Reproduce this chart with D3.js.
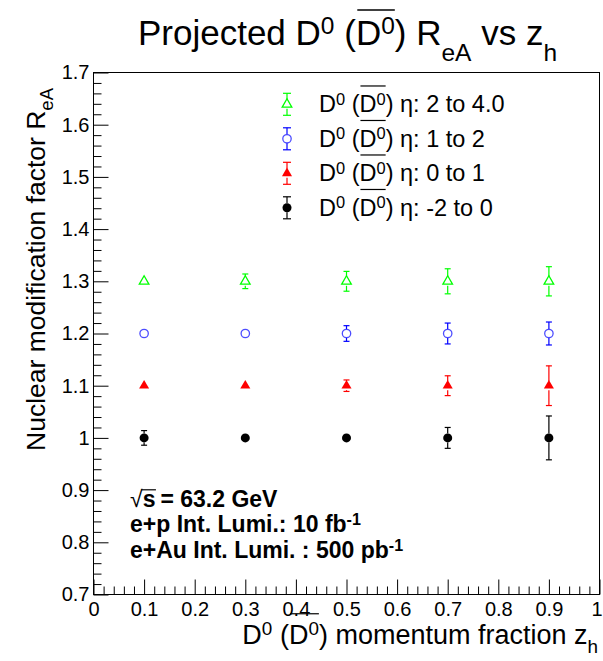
<!DOCTYPE html>
<html>
<head>
<meta charset="utf-8">
<script src="https://cdn.jsdelivr.net/npm/d3@7"></script>
<style>
  html, body { margin: 0; padding: 0; background: #fff; }
  svg { display: block; }
  text { font-family: "Liberation Sans", Arial, Helvetica, sans-serif; fill: #000; white-space: pre; }
</style>
</head>
<body>
<svg id="chart" width="603" height="661"></svg>
<script>
// Momentum-fraction bins (bin centres)
const zh = [0.1, 0.3, 0.5, 0.7, 0.9];

// Projected R_eA and statistical uncertainties per pseudorapidity range
const rEta2to4 = [1.3, 1.3, 1.3, 1.3, 1.3];
const errEta2to4 = [0.004, 0.014, 0.019, 0.024, 0.028];
const rEta1to2 = [1.2, 1.2, 1.2, 1.2, 1.2];
const errEta1to2 = [0.005, 0.007, 0.015, 0.020, 0.022];
const rEta0to1 = [1.1, 1.1, 1.1, 1.1, 1.1];
const errEta0to1 = [0.004, 0.005, 0.011, 0.019, 0.038];
const rEtaM2to0 = [1.0, 1.0, 1.0, 1.0, 1.0];
const errEtaM2to0 = [0.014, 0.004, 0.005, 0.020, 0.042];

// Legend labels (η ranges)
const etaLabels = ["2 to 4.0", "1 to 2", "0 to 1", "-2 to 0"];

// Axis ticks and their labels
const xTicks = [0, 0.1, 0.2, 0.3, 0.4, 0.5, 0.6, 0.7, 0.8, 0.9, 1];
const xTickLabels = ["0", "0.1", "0.2", "0.3", "0.4", "0.5", "0.6", "0.7", "0.8", "0.9", "1"];
const yTicks = [0.7, 0.8, 0.9, 1.0, 1.1, 1.2, 1.3, 1.4, 1.5, 1.6, 1.7];
const yTickLabels = ["0.7", "0.8", "0.9", "1", "1.1", "1.2", "1.3", "1.4", "1.5", "1.6", "1.7"];

// Info box lines
const infoLines = ["= 63.2 GeV", "e+p Int. Lumi.: 10 fb", "e+Au Int. Lumi. : 500 pb"];

// ---- series definitions (data + drawing style) ----
const series = [
  { label: etaLabels[0], values: rEta2to4, errors: errEta2to4, color: "#00ff00", marker: "triangle", filled: false },
  { label: etaLabels[1], values: rEta1to2, errors: errEta1to2, color: "#0000ff", marker: "circle", filled: false },
  { label: etaLabels[2], values: rEta0to1, errors: errEta0to1, color: "#ff0000", marker: "triangle", filled: true },
  { label: etaLabels[3], values: rEtaM2to0, errors: errEtaM2to0, color: "#000000", marker: "circle", filled: true }
];

const FONT = "\"Liberation Sans\", Arial, Helvetica, sans-serif";
const svg = d3.select("#chart");

const frame = { left: 93.5, right: 599.5, top: 72.5, bottom: 594.5 };
const x = d3.scaleLinear().domain([0, 1]).range([frame.left, frame.right]);
const y = d3.scaleLinear().domain([0.7, 1.7]).range([frame.bottom, frame.top]);

// Rich text: a row of parts with optional superscript / subscript / overline
function richText(parent, parts, opt) {
  const size = opt.size;
  const g = parent.append("g");
  const inner = g.append("g");
  let cx = 0;
  const bars = {};
  parts.forEach(p => {
    const fs = p.s ? size * 0.7 : size;
    const dy = p.s === "sup" ? -0.32 * size : p.s === "sub" ? (opt.subDy || 0.4) * size : 0;
    const t = inner.append("text")
      .attr("x", cx).attr("y", dy)
      .attr("font-size", fs)
      .attr("font-weight", opt.weight || "normal")
      .text(p.t);
    const w = t.node().getComputedTextLength();
    if (p.bar) {
      if (!bars[p.bar]) bars[p.bar] = [cx, cx + w];
      else bars[p.bar][1] = cx + w;
    }
    cx += w;
  });
  Object.values(bars).forEach(([a, b]) => {
    inner.append("line")
      .attr("x1", a + size * 0.04).attr("x2", b)
      .attr("y1", -(opt.barY || 1.12) * size).attr("y2", -(opt.barY || 1.12) * size)
      .attr("stroke", "#000").attr("stroke-width", opt.barW || 1.2);
  });
  const shift = opt.anchor === "middle" ? -cx / 2 : opt.anchor === "end" ? -cx : 0;
  inner.attr("transform", `translate(${shift},0)`);
  g.attr("transform", `translate(${opt.x},${opt.y})` + (opt.rotate ? ` rotate(${opt.rotate})` : ""));
  return g;
}

// D0 (D0bar) prefix used in several labels
function dPrefix() {
  return [
    { t: "D" }, { t: "0", s: "sup" }, { t: " (" },
    { t: "D", bar: "a" }, { t: "0", s: "sup", bar: "a" }, { t: ")" }
  ];
}

// ---- title ----
richText(svg, [{ t: "Projected " }, ...dPrefix(), { t: " R" }, { t: "eA", s: "sub" }, { t: " vs z" }, { t: "h", s: "sub" }],
  { x: 347.5, y: 45, size: 35, anchor: "middle", subDy: 0.45, barY: 1.0, barW: 1.6 });

// ---- frame ----
svg.append("rect")
  .attr("x", frame.left).attr("y", frame.top)
  .attr("width", frame.right - frame.left).attr("height", frame.bottom - frame.top)
  .attr("fill", "none").attr("stroke", "#000").attr("stroke-width", 1);

// ---- axes (ticks drawn inside the frame) ----
const xMinor = d3.range(0, 1.0001, 0.02).filter(v => Math.abs(v * 10 - Math.round(v * 10)) > 1e-6);
const yMinor = d3.range(0.7, 1.7001, 0.02).filter(v => Math.abs(v * 10 - Math.round(v * 10)) > 1e-6);

function styleAxis(g) {
  g.select(".domain").remove();
  g.selectAll("line").attr("stroke", "#000");
  g.selectAll("text").attr("font-family", FONT).attr("font-size", 20).attr("fill", "#000");
}

svg.append("g").attr("transform", `translate(0,${frame.bottom})`)
  .call(d3.axisBottom(x).tickValues(xMinor).tickSizeInner(-8).tickSizeOuter(0).tickFormat(""))
  .call(styleAxis);
const xAxisG = svg.append("g").attr("transform", `translate(0,${frame.bottom})`)
  .call(d3.axisBottom(x).tickValues(xTicks).tickSizeInner(-15).tickSizeOuter(0).tickPadding(7)
    .tickFormat((d, i) => xTickLabels[i]))
  .call(styleAxis);
// the last label sits at the canvas edge: keep it inside the page
xAxisG.selectAll(".tick").filter(d => d === 1).select("text")
  .attr("text-anchor", "end").attr("dx", 2.5);

svg.append("g").attr("transform", `translate(${frame.left},0)`)
  .call(d3.axisLeft(y).tickValues(yMinor).tickSizeInner(-8).tickSizeOuter(0).tickFormat(""))
  .call(styleAxis);
svg.append("g").attr("transform", `translate(${frame.left},0)`)
  .call(d3.axisLeft(y).tickValues(yTicks).tickSizeInner(-15).tickSizeOuter(0).tickPadding(4)
    .tickFormat((d, i) => yTickLabels[i]))
  .call(styleAxis);

// ---- axis titles ----
richText(svg, [...dPrefix(), { t: " momentum fraction z" }, { t: "h", s: "sub" }],
  { x: 598, y: 644, size: 27, anchor: "end", subDy: 0.35 });
richText(svg, [{ t: "Nuclear modification factor R" }, { t: "eA", s: "sub" }],
  { x: 45, y: 88, size: 26.5, anchor: "end", rotate: -90, subDy: 0.32 });

// ---- markers ----
const MR = 4.5; // marker half-size in px
function drawMarker(g, s) {
  if (s.marker === "circle") {
    g.append("circle").attr("r", s.filled ? MR : MR - 0.3)
      .attr("fill", s.filled ? s.color : "none")
      .attr("stroke", s.color).attr("stroke-width", s.filled ? 0 : 1.3)
      .attr("stroke-opacity", s.filled ? 1 : 0.7);
  } else {
    g.append("path")
      .attr("d", d3.symbol().type(d3.symbolTriangle).size(s.filled ? 44 : 40)())
      .attr("fill", s.filled ? s.color : "none")
      .attr("stroke", s.color).attr("stroke-width", s.filled ? 0 : 1.3);
  }
}

function errorBar(g, s, up, down, cap) {
  // up/down: pixel extents from the marker centre (positive numbers)
  if (up > MR) {
    g.append("line").attr("x1", 0).attr("x2", 0).attr("y1", -up).attr("y2", -MR);
    g.append("line").attr("x1", -cap).attr("x2", cap).attr("y1", -up).attr("y2", -up);
  }
  if (down > MR) {
    g.append("line").attr("x1", 0).attr("x2", 0).attr("y1", MR).attr("y2", down);
    g.append("line").attr("x1", -cap).attr("x2", cap).attr("y1", down).attr("y2", down);
  }
  g.selectAll("line").attr("stroke", s.color).attr("stroke-width", 1.2);
}

const plot = svg.append("g");
series.forEach(s => {
  const pts = zh.map((z, i) => ({ z, v: s.values[i], e: s.errors[i] }));
  const pg = plot.append("g");
  pg.selectAll("g.pt").data(pts).join("g")
    .attr("class", "pt")
    .attr("transform", d => `translate(${x(d.z)},${y(d.v)})`)
    .each(function (d) {
      const g = d3.select(this);
      const up = y(d.v) - y(d.v + d.e);
      const down = y(d.v - d.e) - y(d.v);
      errorBar(g, s, up, down, 3);
      drawMarker(g, s);
    });
});

// ---- legend ----
const legend = svg.append("g");
const legY = d3.scalePoint().domain(series.map(s => s.label)).range([104.3, 207.8]);
series.forEach(s => {
  const ly = legY(s.label);
  const mg = legend.append("g").attr("transform", `translate(287,${ly})`);
  errorBar(mg, s, 11, 11, 4);
  drawMarker(mg, s);
  richText(legend, [...dPrefix(), { t: " η: " + s.label }],
    { x: 319, y: ly + 8, size: 23.5, anchor: "start" });
});

// ---- info text ----
const info = svg.append("g");
const infoY = [507, 532, 558];
const INFO_SIZE = 23;
// √s with radical bar
const l1 = info.append("g").attr("transform", `translate(130,${infoY[0]})`);
const rad = l1.append("text").attr("font-size", INFO_SIZE).attr("font-weight", "normal").text("√");
const rw = rad.node().getComputedTextLength();
const sT = l1.append("text").attr("x", rw).attr("font-size", INFO_SIZE).attr("font-weight", "bold").text("s");
const sw = sT.node().getComputedTextLength();
l1.append("line").attr("x1", rw - 1).attr("x2", rw + sw + 0.5)
  .attr("y1", -17.2).attr("y2", -17.2).attr("stroke", "#000").attr("stroke-width", 1.2);
l1.append("text").attr("x", rw + sw + 5).attr("font-size", INFO_SIZE).attr("font-weight", "bold").text(infoLines[0]);

richText(info, [{ t: infoLines[1] }, { t: "-1", s: "sup" }], { x: 130, y: infoY[1], size: INFO_SIZE, weight: "bold" });
richText(info, [{ t: infoLines[2] }, { t: "-1", s: "sup" }], { x: 130, y: infoY[2], size: INFO_SIZE, weight: "bold" });
</script>
</body>
</html>
